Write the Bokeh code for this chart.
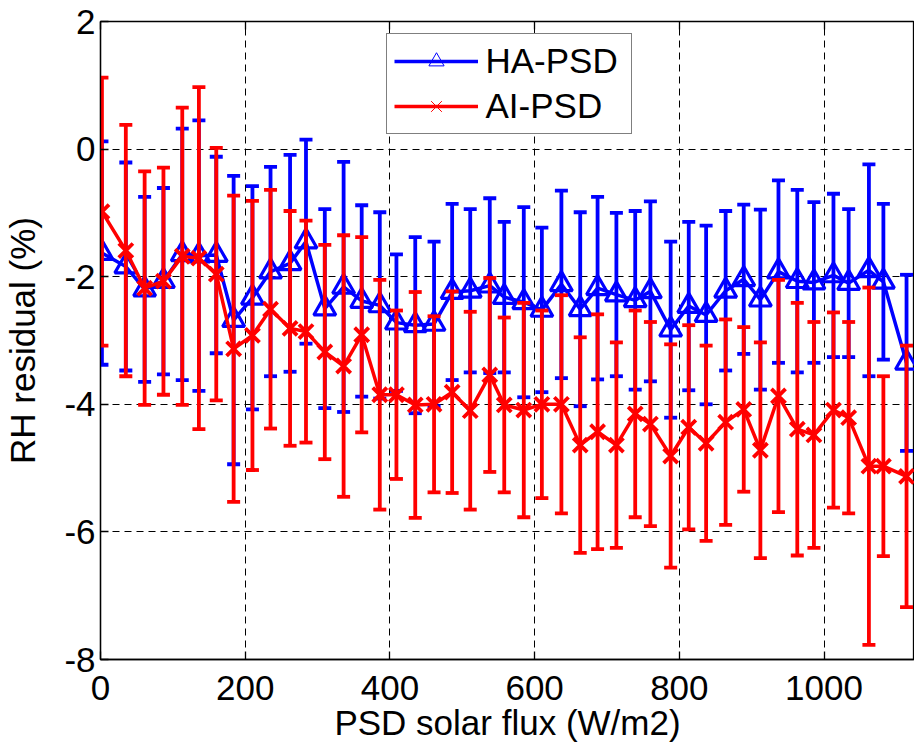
from bokeh.plotting import figure
from bokeh.models import Range1d, FixedTicker, LinearAxis, Legend, LegendItem, ColumnDataSource
from bokeh.embed import file_html
from bokeh.resources import INLINE

# ---- data ----
flux = [2, 35, 61, 87, 113, 136, 160, 184, 210, 235, 262, 284, 310, 336, 361,
        386, 409, 435, 461, 486, 511, 538, 558, 585, 610, 637, 663, 687, 713, 739,
        760, 788, 813, 837, 864, 889, 912, 937, 963, 986, 1013, 1034, 1062, 1082, 1114]

ha_mean = [-1.63, -1.84, -2.20, -2.07, -1.65, -1.67, -1.66, -2.68, -2.33, -1.92,
           -1.79, -1.45, -2.50, -2.16, -2.38, -2.45, -2.72, -2.76, -2.74, -2.24,
           -2.22, -2.14, -2.32, -2.40, -2.52, -2.12, -2.51, -2.18, -2.28, -2.37,
           -2.23, -2.83, -2.46, -2.60, -2.22, -2.04, -2.36, -1.92, -2.07, -2.09,
           -1.98, -2.10, -1.90, -2.08, -3.35]
ha_std = [1.75, 1.63, 1.45, 1.46, 1.97, 2.12, 1.54, 2.26, 1.75, 1.64,
          1.70, 1.60, 1.56, 1.96, 1.50, 1.46, 1.07, 1.38, 1.29, 1.38,
          1.28, 1.37, 1.18, 1.49, 1.29, 1.47, 1.52, 1.43, 1.28, 1.40,
          1.41, 1.38, 1.32, 1.40, 1.25, 1.17, 1.41, 1.43, 1.43, 1.26,
          1.28, 1.16, 1.66, 1.22, 1.38]

ai_mean = [-0.98, -1.59, -2.18, -2.07, -1.68, -1.71, -1.96, -3.13, -2.92, -2.51,
           -2.81, -2.86, -3.18, -3.40, -2.91, -3.85, -3.85, -4.01, -4.00, -3.81,
           -4.10, -3.54, -4.01, -4.09, -4.00, -4.00, -4.64, -4.43, -4.64, -4.15,
           -4.31, -4.81, -4.36, -4.61, -4.28, -4.08, -4.72, -3.87, -4.39, -4.48,
           -4.09, -4.21, -4.97, -4.97, -5.13]
ai_std = [2.10, 1.97, 1.83, 1.78, 2.33, 2.68, 1.98, 2.40, 2.11, 1.87,
          1.84, 1.74, 1.68, 2.05, 1.53, 1.80, 1.32, 1.77, 1.38, 1.58,
          1.55, 1.52, 1.37, 1.68, 1.47, 1.71, 1.69, 1.84, 1.61, 1.62,
          1.60, 1.75, 1.60, 1.53, 1.61, 1.29, 1.69, 1.82, 1.98, 1.77,
          1.53, 1.50, 2.80, 1.41, 2.05]

x_ticks = [0, 200, 400, 600, 800, 1000]
y_ticks = [-8, -6, -4, -2, 0, 2]
series_names = ["HA-PSD", "AI-PSD"]

BLUE = "#0000FF"
RED = "#FF0000"
FONT = "Liberation Sans"
FS = "35px"

def make_src(x, m, s):
    return ColumnDataSource(dict(x=x, y=m,
                                 up=[a + b for a, b in zip(m, s)],
                                 lo=[a - b for a, b in zip(m, s)]))

src_ha = make_src(flux, ha_mean, ha_std)
src_ai = make_src(flux, ai_mean, ai_std)

p = figure(width=914, height=746, output_backend="svg", toolbar_location=None,
           x_range=Range1d(0, 1125), y_range=Range1d(-8, 2),
           min_border_left=100, min_border_right=0, min_border_top=21, min_border_bottom=87)
p.background_fill_color = "white"
p.border_fill_color = "white"
p.outline_line_color = "black"
p.outline_line_width = 1.3

# grid
for g, t in ((p.xgrid, x_ticks), (p.ygrid, y_ticks)):
    g.ticker = FixedTicker(ticks=t)
    g.grid_line_color = "black"
    g.grid_line_width = 1
    g.grid_line_dash = "7 5"

# axes
p.xaxis.ticker = FixedTicker(ticks=x_ticks)
p.yaxis.ticker = FixedTicker(ticks=y_ticks)
p.xaxis.major_label_overrides = {t: str(t) for t in x_ticks}
p.yaxis.major_label_overrides = {t: str(t) for t in y_ticks}
p.xaxis.axis_label = "PSD solar flux (W/m2)"
p.yaxis.axis_label = "RH residual (%)"
for ax in (p.xaxis[0], p.yaxis[0]):
    ax.axis_line_color = "black"
    ax.axis_line_width = 1.3
    ax.major_tick_in = 8
    ax.major_tick_out = 0
    ax.minor_tick_in = 0
    ax.minor_tick_out = 0
    ax.major_tick_line_color = "black"
    ax.major_tick_line_width = 1.3
    ax.minor_tick_line_color = None
    ax.major_label_text_font = FONT
    ax.major_label_text_font_size = FS
    ax.major_label_text_color = "black"
    ax.axis_label_text_font = FONT
    ax.axis_label_text_font_size = FS
    ax.axis_label_text_font_style = "normal"
    ax.axis_label_text_color = "black"
p.xaxis.major_label_text_line_height = 1.0
p.xaxis.axis_label_text_line_height = 1.0
p.xaxis.major_label_standoff = 16
p.xaxis.axis_label_standoff = 0
p.yaxis.major_label_standoff = 5
p.yaxis.axis_label_standoff = 19

# tick marks along the top edge (box style), no labels there
top = LinearAxis(ticker=FixedTicker(ticks=x_ticks), major_tick_in=8, major_tick_out=0,
                 minor_tick_in=0, minor_tick_out=0,
                 major_label_text_color=None, major_label_standoff=0,
                 minor_tick_line_color=None, axis_line_color="black",
                 major_tick_line_color="black", major_tick_line_width=1.3)
p.add_layout(top, "above")

# HA-PSD series
p.segment(x0="x", y0="lo", x1="x", y1="up", source=src_ha, line_color=BLUE, line_width=3.8)
p.scatter("x", "up", source=src_ha, marker="dash", size=13, line_color=BLUE, line_width=3.8)
p.scatter("x", "lo", source=src_ha, marker="dash", size=13, line_color=BLUE, line_width=3.8)
p.line("x", "y", source=src_ha, line_color=BLUE, line_width=3.5)
p.scatter("x", "y", source=src_ha, marker="triangle", size=22, line_color=BLUE,
          fill_color=None, line_width=3.2)

# AI-PSD series
p.segment(x0="x", y0="lo", x1="x", y1="up", source=src_ai, line_color=RED, line_width=3.8)
p.scatter("x", "up", source=src_ai, marker="dash", size=13, line_color=RED, line_width=3.8)
p.scatter("x", "lo", source=src_ai, marker="dash", size=13, line_color=RED, line_width=3.8)
p.line("x", "y", source=src_ai, line_color=RED, line_width=3.5)
p.scatter("x", "y", source=src_ai, marker="x", size=20, line_color=RED, line_width=3.8)

# legend-only renderers (NaN data: nothing drawn inside the axes)
nan = float("nan")
lh1 = p.line(x=[nan], y=[nan], line_color=BLUE, line_width=3.5)
lh2 = p.scatter(x=[nan], y=[nan], marker="triangle", line_color=BLUE, fill_color=None, line_width=1)
la1 = p.line(x=[nan], y=[nan], line_color=RED, line_width=3.5)
la2 = p.scatter(x=[nan], y=[nan], marker="x", line_color=RED, line_width=1)

legend = Legend(items=[LegendItem(label=series_names[0], renderers=[lh1, lh2]),
                       LegendItem(label=series_names[1], renderers=[la1, la2])],
                location=(285.5, 525.5), orientation="vertical",
                border_line_color="black", border_line_width=1.5,
                background_fill_color="white", background_fill_alpha=1.0,
                label_text_font=FONT, label_text_font_size=FS, label_text_color="black",
                label_text_line_height=1.0,
                padding=7, spacing=5, label_height=38, glyph_height=38,
                glyph_width=84, label_standoff=8, label_width=138, margin=0)
p.add_layout(legend, "center")

open("out.html", "w").write(file_html(p, INLINE))
